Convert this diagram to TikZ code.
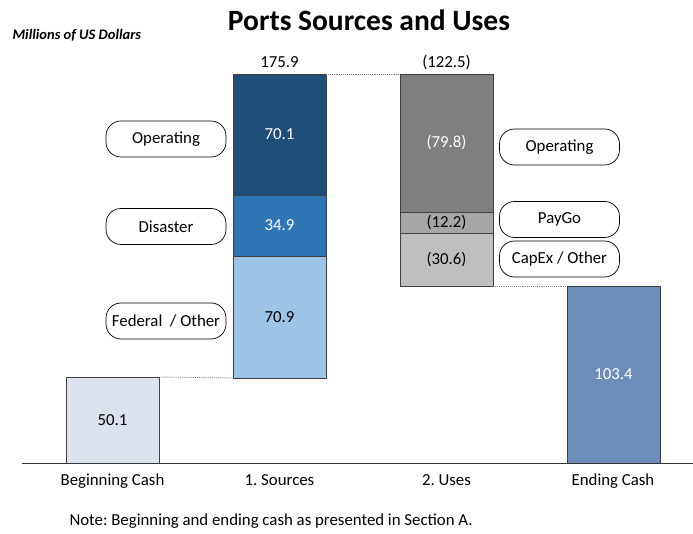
\documentclass[tikz,border=0pt]{standalone}
\usepackage{fontspec}
\setmainfont{Carlito}
\frenchspacing
\definecolor{cOpS}{HTML}{1F4E79}
\definecolor{cDis}{HTML}{2E75B6}
\definecolor{cFed}{HTML}{9DC3E6}
\definecolor{cBeg}{HTML}{DCE3ED}
\definecolor{cOpU}{HTML}{7F7F7F}
\definecolor{cPay}{HTML}{A6A6A6}
\definecolor{cCap}{HTML}{BFBFBF}
\definecolor{cEnd}{HTML}{6D8DB9}
\definecolor{cEdge}{HTML}{404040}
\begin{document}
\begin{tikzpicture}[x=1pt,y=-1pt,
  lbl/.style={font=\fontsize{16.8}{19}\selectfont},
  bar/.style={draw=cEdge, line width=0.9pt, minimum width=93pt, inner sep=0pt, outer sep=0pt, anchor=north west, lbl},
  pill/.style={draw=black, line width=0.7pt, rounded corners=15pt, minimum width=120pt, minimum height=36pt, inner sep=0pt, lbl},
  dotline/.style={draw=gray, line width=0.9pt, densely dotted},
  cat/.style={lbl, anchor=base}]
\useasboundingbox (0,0) rectangle (693,534);
% title
\node[font=\fontsize{29.5}{34}\selectfont\bfseries, anchor=base] (title) at (369,31) {Ports Sources and Uses};
\node[font=\fontsize{14.5}{17}\selectfont\bfseries\itshape, anchor=base west] (units) at (9,40) {Millions of US Dollars};
% bars
\node[bar, fill=cBeg, minimum height=86pt] (beg) at (66,377) {50.1};
\node[bar, fill=cOpS, minimum height=121pt, text=white] (sop) at (233,74) {70.1};
\node[bar, fill=cDis, minimum height=61pt, text=white] (sdis) at (233,195) {34.9};
\node[bar, fill=cFed, minimum height=122pt] (sfed) at (233,256) {70.9};
\node[bar, fill=cOpU, minimum height=138pt, text=white] (uop) at (400,74) {(79.8)};
\node[bar, fill=cPay, minimum height=21pt] (upay) at (400,212) {(12.2)};
\node[bar, fill=cCap, minimum height=53pt] (ucap) at (400,233) {(30.6)};
\node[bar, fill=cEnd, minimum height=177pt, text=white] (endc) at (567,286) {103.4};
% totals
\node[lbl, anchor=base] (tots) at (279.5,67.5) {175.9};
\node[lbl, anchor=base] (totu) at (446.5,67.5) {(122.5)};
% connectors
\draw[dotline] (beg.north east) -- (sfed.south west);
\draw[dotline] (sop.north east) -- (uop.north west);
\draw[dotline] (ucap.south east) -- (endc.north west);
% axis
\coordinate (axL) at (22,463.5);
\coordinate (axR) at (693,463.5);
\draw[line width=0.9pt, draw=black!80] (axL) -- (axR);
% pills
\node[pill] (pop) at (166,139) {Operating};
\node[pill] (pdis) at (166,226.5) {Disaster};
\node[pill] (pfed) at (166,321) {Federal \ / Other};
\node[pill] (pop2) at (559.5,147) {Operating};
\node[pill] (ppay) at (559.5,219.5) {PayGo};
\node[pill] (pcap) at (559.5,259) {CapEx / Other};
% categories
\node[cat] (c1) at (112.5,485) {Beginning Cash};
\node[cat] (c2) at (279.5,485) {1. Sources};
\node[cat] (c3) at (446.5,485) {2. Uses};
\node[cat] (c4) at (613,485) {Ending Cash};
% note
\node[lbl, anchor=base west] (note) at (66,525) {Note: Beginning and ending cash as presented in Section A.};
\end{tikzpicture}
\end{document}
